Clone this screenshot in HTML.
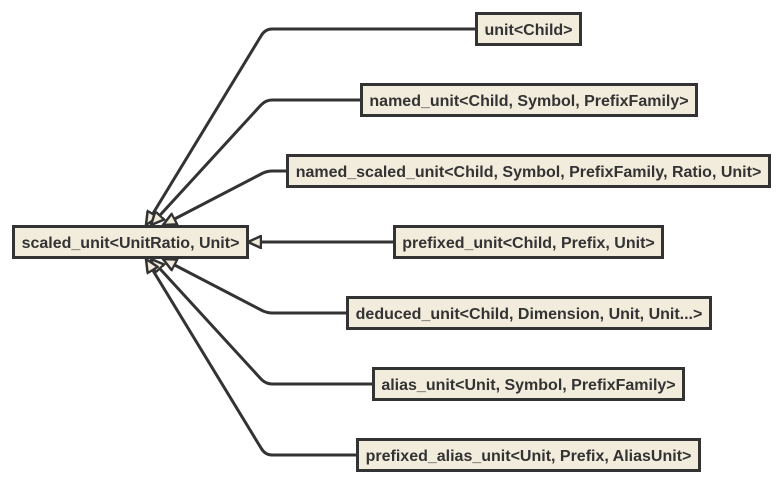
<!DOCTYPE html>
<html><head><meta charset="utf-8"><style>
html,body{margin:0;padding:0;background:#fff;width:782px;height:483px;overflow:hidden}
text{font-family:"Liberation Sans",sans-serif;font-weight:bold;font-size:16px;fill:#333}
</style></head><body>
<svg width="782" height="483" viewBox="0 0 782 483" xmlns="http://www.w3.org/2000/svg">
<defs>
<marker id="a" markerWidth="16" markerHeight="14" refX="14" refY="7" orient="auto" markerUnits="userSpaceOnUse">
<path d="M1,1 L14,7 L1,13 Z" fill="#f2ecdc" stroke="#333" stroke-width="2.5" stroke-linejoin="miter"/>
</marker>
</defs>
<g fill="none" stroke="#333" stroke-width="3">
<path d="M476 29 L272 29 Q265 29 261 36 L146 225" marker-end="url(#a)"/>
<path d="M361 100 L272 100 Q266 100 261 105 L151 225" marker-end="url(#a)"/>
<path d="M287 171 L272 171 Q268 171 263 173 L163 225" marker-end="url(#a)"/>
<path d="M394 242 L248 242" marker-end="url(#a)"/>
<path d="M347 313 L272 313 Q268 313 263 311 L163 259" marker-end="url(#a)"/>
<path d="M373 384 L272 384 Q266 384 261 379 L151 259" marker-end="url(#a)"/>
<path d="M357 455 L272 455 Q265 455 261 448 L146 259" marker-end="url(#a)"/>
</g>
<g fill="#f2ecdc" stroke="#333" stroke-width="3">
<rect x="13.5" y="226.5" width="234" height="31"/>
<rect x="476.5" y="13.5" width="104" height="31"/>
<rect x="361.5" y="84.5" width="335" height="31"/>
<rect x="287.5" y="155.5" width="482" height="31"/>
<rect x="394.5" y="226.5" width="268" height="31"/>
<rect x="347.5" y="297.5" width="363" height="31"/>
<rect x="373.5" y="368.5" width="310" height="31"/>
<rect x="357.5" y="439.5" width="342" height="31"/>
</g>
<g text-anchor="middle">
<text x="130.5" y="248">scaled_unit&lt;UnitRatio, Unit&gt;</text>
<text x="528.5" y="35">unit&lt;Child&gt;</text>
<text x="529" y="106">named_unit&lt;Child, Symbol, PrefixFamily&gt;</text>
<text x="528.5" y="177">named_scaled_unit&lt;Child, Symbol, PrefixFamily, Ratio, Unit&gt;</text>
<text x="528.5" y="248">prefixed_unit&lt;Child, Prefix, Unit&gt;</text>
<text x="529" y="319">deduced_unit&lt;Child, Dimension, Unit, Unit...&gt;</text>
<text x="528.5" y="390">alias_unit&lt;Unit, Symbol, PrefixFamily&gt;</text>
<text x="528.5" y="461">prefixed_alias_unit&lt;Unit, Prefix, AliasUnit&gt;</text>
</g>
</svg>
</body></html>
